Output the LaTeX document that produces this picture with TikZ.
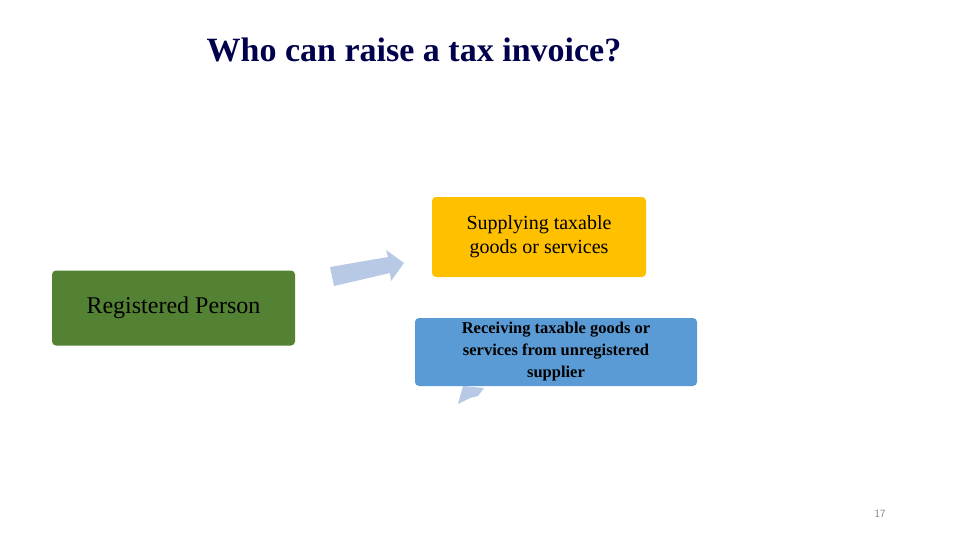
\documentclass[tikz,border=0pt]{standalone}
\usepackage{fontspec}
\setmainfont{Liberation Serif}
\begin{document}
\begin{tikzpicture}[x=1pt,y=-1pt,
  box/.style={rounded corners=4pt,inner sep=0pt,align=center,text=black},
  barrow/.style={fill=blue!20!cyan!10!gray!30!blue!25}]
\useasboundingbox[fill=white] (0,0) rectangle (960,540);
\node[font=\bfseries\fontsize{34}{36}\selectfont,text=black!70!blue] (title) at (414,50) {Who can raise a tax invoice?};
\fill[fill={rgb,255:red,183;green,201;blue,228}] (330,267) -- (388,257) -- (386,250) -- (404,263) -- (391,281) -- (390,273) -- (334,286) -- cycle;
\fill[fill={rgb,255:red,183;green,201;blue,228}] (458,404) -- (463,386) -- (484,388) -- (478,396) -- (470,398) -- cycle;
\node[box,fill={rgb,255:red,84;green,130;blue,53},minimum width=243,minimum height=75,font=\fontsize{24}{26}\selectfont] (rp) at (173.5,308) {Registered Person};
\node[box,fill={rgb,255:red,255;green,192;blue,0},minimum width=214,minimum height=80,font=\fontsize{20}{24}\selectfont] (sup) at (539,237) {Supplying taxable\\goods or services};
\node[box,fill={rgb,255:red,91;green,155;blue,213},minimum width=282,minimum height=68,font=\bfseries\fontsize{16.5}{22}\selectfont] (rec) at (556,352) {Receiving taxable goods or\\services from unregistered\\supplier};
\node[font=\sffamily\fontsize{11}{12}\selectfont,text=gray] (pg) at (880,514) {17};
\end{tikzpicture}
\end{document}
